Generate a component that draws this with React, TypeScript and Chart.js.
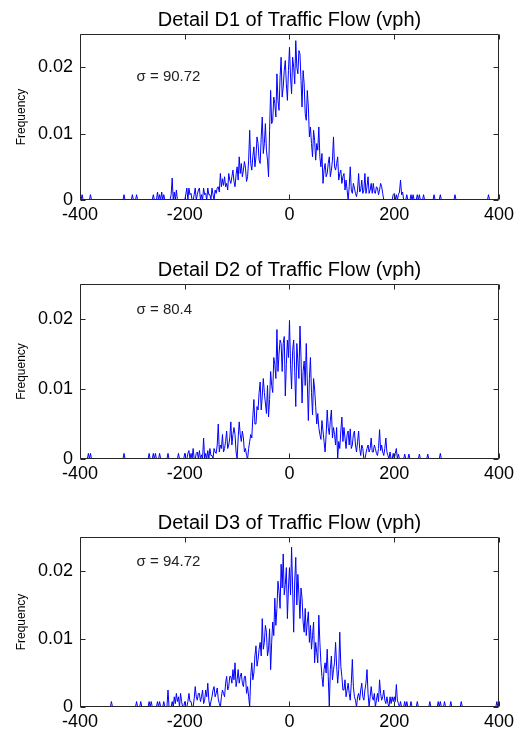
import React, { useEffect, useRef } from 'react';
import { Chart, registerables } from 'chart.js';
Chart.register(...registerables);

// Histogram bins: centres from -400 to 400 vph, bin width 2
const BIN_START = -400;
const BIN_WIDTH = 2;
const X_TICKS = [-400, -200, 0, 200, 400];
const Y_TICKS = [0, 0.01, 0.02];
const TITLES = [
  'Detail D1 of Traffic Flow (vph)',
  'Detail D2 of Traffic Flow (vph)',
  'Detail D3 of Traffic Flow (vph)',
];
const SIGMA_LABELS = ['σ = 90.72', 'σ = 80.4', 'σ = 94.72'];

// each row covers 40 vph (20 bins)
const D1 = [
  0, 0, 0.0008, 0, 0, 0, 0, 0, 0, 0, 0.0008, 0, 0, 0, 0, 0, 0, 0, 0, 0,
  0, 0, 0, 0, 0, 0, 0, 0, 0, 0, 0, 0, 0, 0, 0, 0, 0, 0, 0, 0,
  0, 0, 0.0008, 0, 0, 0, 0, 0, 0, 0, 0.0008, 0, 0, 0, 0.0008, 0, 0, 0, 0, 0,
  0, 0, 0, 0, 0, 0, 0, 0, 0, 0, 0.0008, 0, 0, 0, 0.0012, 0, 0.0008, 0, 0.0012, 0,
  0.0008, 0, 0, 0, 0, 0, 0, 0.0008, 0.0033, 0, 0.0012, 0, 0.0015, 0, 0, 0, 0, 0, 0, 0,
  0, 0.0008, 0.0018, 0, 0.0018, 0.0008, 0.001, 0, 0, 0.0008, 0.0018, 0, 0.0008, 0.0015, 0.0018, 0, 0.0008, 0, 0.0018, 0.0008,
  0.001, 0, 0.0018, 0.0008, 0.0008, 0, 0.0018, 0.0008, 0, 0.0015, 0.001, 0.0018, 0.002, 0.0012, 0.004, 0.002, 0.0032, 0.0022, 0.0035, 0.002,
  0.0025, 0.0015, 0.004, 0.003, 0.0025, 0.0035, 0.0045, 0.0028, 0.002, 0.0038, 0.005, 0.003, 0.0065, 0.004, 0.0055, 0.0035, 0.0045, 0.0058, 0.0048, 0.0028,
  0.0035, 0.006, 0.0105, 0.0055, 0.0045, 0.0065, 0.008, 0.005, 0.0065, 0.0095, 0.0085, 0.006, 0.0055, 0.0095, 0.0125, 0.007, 0.0085, 0.0115, 0.0075, 0.006,
  0.0035, 0.0105, 0.0165, 0.0115, 0.012, 0.0155, 0.0145, 0.0125, 0.019, 0.015, 0.0135, 0.0185, 0.0215, 0.0155, 0.017, 0.0195, 0.021, 0.0175, 0.015, 0.0195,
  0.023, 0.0185, 0.016, 0.0215, 0.02, 0.0175, 0.024, 0.02, 0.019, 0.0225, 0.022, 0.018, 0.014, 0.0195, 0.0175, 0.013, 0.012, 0.0165, 0.014, 0.0095,
  0.011, 0.0085, 0.0065, 0.0105, 0.009, 0.006, 0.0085, 0.0075, 0.011, 0.0065, 0.005, 0.007, 0.0025, 0.0045, 0.0055, 0.0035, 0.004, 0.0055, 0.0065, 0.0035,
  0.0045, 0.006, 0.0095, 0.005, 0.0045, 0.0055, 0.0065, 0.003, 0.004, 0.0045, 0.0025, 0.0035, 0.004, 0.0015, 0.003, 0.0015, 0, 0.002, 0.005, 0.0015,
  0.001, 0.0025, 0.0018, 0.001, 0.0005, 0.0015, 0.004, 0.0012, 0.0015, 0.003, 0.001, 0.0015, 0.004, 0.001, 0.002, 0.0035, 0.001, 0.0015, 0.0025, 0.001,
  0.0025, 0.0012, 0.001, 0.002, 0.0018, 0.0008, 0.0015, 0.0025, 0.002, 0.001, 0, 0, 0, 0, 0, 0, 0, 0, 0, 0.0008,
  0.001, 0, 0.0008, 0, 0.0008, 0.0012, 0.003, 0.0008, 0.0012, 0, 0, 0, 0.0008, 0, 0, 0, 0.0008, 0, 0.0008, 0,
  0, 0, 0.0008, 0, 0.0008, 0, 0, 0, 0.0008, 0, 0, 0, 0, 0, 0, 0, 0, 0, 0.0008, 0,
  0, 0, 0, 0, 0.0008, 0, 0, 0, 0, 0, 0, 0, 0, 0, 0, 0, 0, 0, 0.0008, 0,
  0, 0, 0, 0, 0, 0, 0, 0, 0, 0, 0, 0, 0, 0, 0, 0, 0, 0, 0, 0,
  0, 0, 0, 0, 0, 0, 0, 0, 0, 0, 0.0008, 0, 0, 0, 0, 0, 0, 0, 0, 0,
  0.0008,
];

const D2 = [
  0, 0, 0, 0, 0, 0, 0, 0, 0.0008, 0, 0.0008, 0, 0, 0, 0, 0, 0, 0, 0, 0,
  0, 0, 0, 0, 0, 0, 0, 0, 0, 0, 0, 0, 0, 0, 0, 0, 0, 0, 0, 0,
  0, 0, 0.0008, 0, 0, 0, 0, 0, 0, 0, 0, 0, 0, 0, 0, 0, 0, 0, 0, 0,
  0, 0, 0, 0, 0, 0, 0.0008, 0, 0, 0, 0.0008, 0, 0.0008, 0, 0, 0, 0.0008, 0, 0, 0,
  0, 0, 0, 0, 0.0008, 0, 0, 0, 0, 0, 0, 0, 0, 0, 0.0008, 0, 0, 0, 0, 0,
  0.0008, 0, 0, 0.0008, 0.0012, 0, 0.0008, 0, 0.0015, 0, 0, 0.0008, 0.001, 0, 0.0012, 0, 0.0006, 0, 0.003, 0,
  0.0008, 0, 0.0012, 0, 0.0015, 0.0005, 0.0005, 0, 0.0015, 0.001, 0.0008, 0.002, 0.005, 0.001, 0.002, 0.0015, 0.0035, 0.001, 0.0015, 0.0025,
  0.004, 0.0015, 0.002, 0.003, 0.0053, 0.002, 0.0035, 0.0045, 0.0035, 0.001, 0, 0.003, 0.0053, 0.0035, 0.0025, 0.004, 0.003, 0.001, 0.0015, 0.0005,
  0, 0.0015, 0.0025, 0.0035, 0.003, 0.006, 0.0085, 0.005, 0.005, 0.0075, 0.007, 0.0095, 0.011, 0.007, 0.009, 0.0115, 0.0095, 0.008, 0.0065, 0.0105,
  0.006, 0.0085, 0.0125, 0.0105, 0.0095, 0.0145, 0.0135, 0.0115, 0.0185, 0.0125, 0.015, 0.017, 0.0165, 0.0125, 0.0165, 0.0175, 0.009, 0.0135, 0.017, 0.0145,
  0.0198, 0.0135, 0.01, 0.0155, 0.017, 0.0125, 0.0075, 0.0165, 0.014, 0.0115, 0.019, 0.0145, 0.008, 0.0125, 0.014, 0.0105, 0.0165, 0.011, 0.0055, 0.0115,
  0.0145, 0.0095, 0.0063, 0.0115, 0.01, 0.0075, 0.005, 0.0065, 0.0045, 0.0035, 0.0028, 0.0055, 0.004, 0.0025, 0.001, 0.0035, 0.007, 0.0045, 0.0035, 0.0055,
  0.007, 0.003, 0.0045, 0.0035, 0.002, 0.0045, 0, 0.0025, 0.0015, 0.004, 0.006, 0.0025, 0.0045, 0.003, 0.0015, 0.0035, 0.004, 0.002, 0.0043, 0.0015,
  0.002, 0.0035, 0.004, 0.002, 0.001, 0.0025, 0.004, 0.0015, 0.0005, 0.002, 0.0015, 0, 0, 0.0008, 0.0015, 0.002, 0.001, 0.0015, 0.003, 0.001,
  0.001, 0.002, 0.0015, 0.0008, 0.0005, 0.0015, 0.0042, 0.0012, 0.002, 0.001, 0.0005, 0.0015, 0.003, 0.001, 0.0005, 0, 0.001, 0, 0, 0.0008,
  0, 0.0008, 0.0015, 0, 0.0007, 0, 0, 0, 0, 0, 0.0007, 0, 0, 0, 0.0007, 0, 0, 0, 0, 0,
  0, 0, 0, 0, 0.0007, 0, 0, 0, 0, 0, 0, 0, 0.0007, 0, 0, 0, 0, 0, 0, 0,
  0, 0, 0, 0, 0.0008, 0, 0, 0, 0, 0, 0, 0, 0, 0, 0, 0, 0, 0, 0, 0,
  0, 0, 0, 0, 0, 0, 0, 0, 0, 0, 0, 0, 0, 0, 0, 0, 0, 0, 0, 0,
  0, 0, 0, 0, 0, 0, 0, 0, 0, 0, 0, 0, 0, 0, 0, 0, 0, 0, 0, 0,
  0,
];

const D3 = [
  0, 0, 0, 0, 0, 0, 0, 0, 0, 0, 0, 0, 0, 0, 0, 0, 0, 0, 0, 0,
  0, 0, 0, 0, 0, 0, 0, 0, 0, 0, 0.0008, 0, 0, 0, 0, 0, 0, 0, 0, 0,
  0, 0, 0, 0, 0, 0, 0, 0, 0, 0, 0, 0, 0, 0, 0.0008, 0, 0, 0, 0.0008, 0,
  0, 0, 0, 0, 0, 0, 0.0008, 0, 0.0008, 0, 0, 0, 0, 0, 0.0008, 0, 0.0008, 0, 0, 0,
  0.0008, 0, 0, 0, 0.0025, 0, 0, 0, 0.0008, 0, 0.0015, 0.0005, 0.002, 0.0008, 0.0015, 0, 0.002, 0.0008, 0, 0,
  0.0008, 0, 0, 0.0008, 0.002, 0.0008, 0.0008, 0, 0, 0.0012, 0.003, 0.0015, 0.001, 0.002, 0.002, 0.0008, 0.0015, 0.0025, 0.0005, 0.001,
  0.0025, 0.0015, 0.0035, 0.001, 0, 0.0008, 0.0015, 0.0025, 0.003, 0.0015, 0.002, 0.0028, 0.0012, 0.0005, 0, 0.0015, 0.0025, 0.002, 0.0015, 0.0035,
  0.0045, 0.0025, 0.003, 0.0045, 0.0045, 0.0035, 0.0055, 0.004, 0.0065, 0.003, 0.004, 0.0055, 0.0035, 0.0045, 0.005, 0.0035, 0.003, 0.0045, 0.0045, 0.002,
  0.003, 0.0015, 0, 0.0045, 0.0065, 0.004, 0.005, 0.0075, 0.009, 0.006, 0.007, 0.0085, 0.0095, 0.0075, 0.013, 0.0085, 0.0095, 0.012, 0.011, 0.0075,
  0.0085, 0.0115, 0.0055, 0.0095, 0.0125, 0.0105, 0.016, 0.012, 0.0145, 0.0185, 0.017, 0.0145, 0.021, 0.0175, 0.0225, 0.0165, 0.018, 0.0205, 0.013, 0.0175,
  0.0205, 0.0165, 0.0235, 0.0175, 0.011, 0.0185, 0.022, 0.015, 0.0195, 0.0165, 0.013, 0.0175, 0.016, 0.0125, 0.011, 0.0145, 0.0105, 0.0125, 0.014, 0.0095,
  0.012, 0.0085, 0.0105, 0.0125, 0.0065, 0.0095, 0.008, 0.0065, 0.0135, 0.0095, 0.0065, 0.0045, 0.003, 0.0055, 0.0065, 0.005, 0.0085, 0.0045, 0, 0.0055,
  0.0075, 0.004, 0.0055, 0.0065, 0.0095, 0.006, 0.0035, 0.0055, 0.011, 0.006, 0.0045, 0.0025, 0.0025, 0.004, 0.0015, 0.0025, 0.0035, 0.002, 0.001, 0.0035,
  0.007, 0.003, 0.0015, 0.001, 0, 0.0015, 0.002, 0.001, 0.0025, 0.0035, 0.0015, 0.001, 0.0025, 0.0035, 0.0055, 0.002, 0, 0.0015, 0.003, 0.0015,
  0.001, 0.002, 0, 0.001, 0.002, 0.0008, 0.004, 0.002, 0.001, 0.0015, 0.0025, 0.001, 0.0005, 0.0015, 0.0005, 0, 0.0015, 0.0005, 0.0015, 0.0008,
  0.0015, 0.0008, 0.0033, 0.001, 0.0005, 0, 0.0008, 0, 0, 0, 0.0008, 0, 0.0008, 0, 0, 0, 0.0008, 0, 0, 0,
  0, 0, 0.0008, 0, 0, 0, 0, 0, 0, 0, 0, 0, 0, 0, 0.0008, 0, 0, 0, 0, 0,
  0, 0, 0.0008, 0, 0.0008, 0, 0, 0, 0.0008, 0, 0, 0, 0, 0, 0.0008, 0, 0, 0, 0, 0,
  0, 0, 0, 0, 0.0008, 0, 0, 0, 0, 0, 0, 0, 0, 0, 0, 0, 0, 0, 0, 0,
  0, 0, 0, 0, 0, 0, 0, 0, 0, 0, 0, 0, 0, 0, 0, 0, 0, 0, 0.0008, 0,
  0,
];

const SERIES = [D1, D2, D3];

// layout per panel (page px)
const PANELS = [
  { top: 0, height: 230, sigmaX: -292, sigmaY: 0.0185 },
  { top: 250, height: 239, sigmaX: -292, sigmaY: 0.0213 },
  { top: 503, height: 234, sigmaX: -292, sigmaY: 0.0213 },
];

const FONT = "Arial, 'Liberation Sans', sans-serif";

const boxPlugin = {
  id: 'matlabBox',
  afterDatasetsDraw(chart: any) {
    const { ctx, chartArea: a, scales } = chart;
    const l = Math.round(a.left) + 0.5;
    const t = Math.round(a.top) + 0.5;
    const r = Math.round(a.right) - 0.5;
    const b = Math.round(a.bottom) - 0.5;
    ctx.save();
    ctx.strokeStyle = '#262626';
    ctx.lineWidth = 1;
    ctx.beginPath();
    ctx.rect(l, t, r - l, b - t);
    const tl = 5;
    X_TICKS.forEach((v) => {
      const x = Math.round(scales.x.getPixelForValue(v)) + 0.5;
      ctx.moveTo(x, b);
      ctx.lineTo(x, b - tl);
      ctx.moveTo(x, t);
      ctx.lineTo(x, t + tl);
    });
    Y_TICKS.forEach((v) => {
      const y = Math.round(scales.y.getPixelForValue(v)) + 0.5;
      ctx.moveTo(l, y);
      ctx.lineTo(l + tl, y);
      ctx.moveTo(r, y);
      ctx.lineTo(r - tl, y);
    });
    ctx.stroke();
    ctx.restore();
  },
};

const sigmaPlugin = {
  id: 'sigmaLabel',
  afterDraw(chart: any, _args: any, opts: any) {
    const { ctx, scales } = chart;
    ctx.save();
    ctx.fillStyle = '#222';
    ctx.font = `15px ${FONT}`;
    ctx.textBaseline = 'middle';
    ctx.textAlign = 'left';
    ctx.fillText(opts.text, scales.x.getPixelForValue(opts.x), scales.y.getPixelForValue(opts.y));
    ctx.restore();
  },
};

function Panel({ idx }: { idx: number }) {
  const ref = useRef<HTMLCanvasElement>(null);
  const p = PANELS[idx];
  useEffect(() => {
    if (!ref.current) return;
    const values = SERIES[idx];
    const pts = values.map((y, i) => ({ x: BIN_START + i * BIN_WIDTH, y }));
    const chart = new Chart(ref.current, {
      type: 'line',
      data: {
        datasets: [
          {
            data: pts,
            borderColor: '#0000ff',
            borderWidth: 1,
            pointRadius: 0,
            tension: 0,
            fill: false,
          },
        ],
      },
      plugins: [boxPlugin, sigmaPlugin],
      options: {
        animation: false,
        responsive: false,
        devicePixelRatio: 1,
        layout: { padding: { left: 0, right: 17, top: 0, bottom: 0 } },
        plugins: {
          legend: { display: false },
          tooltip: { enabled: false },
          title: {
            display: true,
            text: TITLES[idx],
            fullSize: false,
            color: '#000',
            font: { family: FONT, size: 20, weight: 'normal' },
            padding: { top: 8, bottom: 2 },
          },
          sigmaLabel: { text: SIGMA_LABELS[idx], x: p.sigmaX, y: p.sigmaY },
        } as any,
        scales: {
          x: {
            type: 'linear',
            min: -400,
            max: 400,
            grid: { display: false, drawTicks: false },
            border: { display: false },
            afterBuildTicks: (s: any) => {
              s.ticks = X_TICKS.map((v) => ({ value: v }));
            },
            afterFit: (s: any) => {
              s.height = 30;
            },
            ticks: {
              color: '#000',
              padding: 4,
              maxRotation: 0,
              autoSkip: false,
              font: { family: FONT, size: 18 },
            },
          },
          y: {
            type: 'linear',
            min: 0,
            max: 0.025,
            grid: { display: false, drawTicks: false },
            border: { display: false },
            afterBuildTicks: (s: any) => {
              s.ticks = Y_TICKS.map((v) => ({ value: v }));
            },
            afterFit: (s: any) => {
              s.width = 80;
            },
            title: {
              display: true,
              text: 'Frequency',
              color: '#000',
              font: { family: FONT, size: 12 },
              padding: { top: 14, bottom: 0 },
            },
            ticks: {
              color: '#000',
              padding: 7,
              autoSkip: false,
              font: { family: FONT, size: 18 },
              callback: (v: any) => String(v),
            },
          },
        },
      },
    });
    return () => chart.destroy();
  }, [idx]);
  return (
    <canvas
      ref={ref}
      width={518}
      height={p.height}
      style={{ position: 'absolute', left: 0, top: p.top, width: 518, height: p.height }}
    />
  );
}

export default function App() {
  return (
    <div
      style={{
        position: 'absolute',
        left: 0,
        top: 0,
        width: 518,
        height: 735,
        background: '#fff',
        overflow: 'hidden',
      }}
    >
      <Panel idx={0} />
      <Panel idx={1} />
      <Panel idx={2} />
    </div>
  );
}
